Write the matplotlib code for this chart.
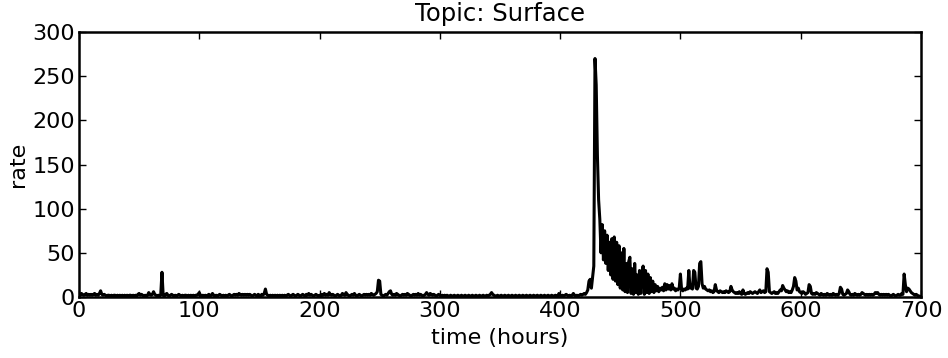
import matplotlib
matplotlib.use("Agg")
import matplotlib.pyplot as plt
import numpy as np

# hourly rate values, hours 0..700
rate = [
    3,2,4,3,2,3,4,2,3,2,
    3,2,3,4,2,3,2,4,7,3,
    2,3,2,1,2,2,1,2,1,2,
    2,1,2,1,2,1,2,1,2,1,
    2,1,2,2,1,2,1,2,1,3,
    4,2,3,2,1,2,1,2,5,3,
    2,3,6,3,2,1,2,1,3,28,
    2,1,3,4,2,1,2,3,2,1,
    2,1,2,3,2,1,2,1,2,2,
    1,2,1,2,1,2,1,2,2,3,
    5,2,1,2,1,2,1,2,3,1,
    2,4,2,1,2,1,2,3,2,1,
    2,1,2,1,2,3,2,1,2,3,
    2,3,2,4,3,2,3,2,3,2,
    3,2,3,2,1,2,3,2,1,3,
    2,1,3,2,4,9,3,2,1,2,
    1,2,1,2,1,2,1,2,1,2,
    1,2,1,2,3,2,1,2,3,2,
    1,2,3,2,1,2,3,2,1,3,
    2,4,2,3,2,1,2,3,2,1,
    2,1,3,2,4,2,3,2,5,3,
    2,3,2,1,2,3,2,1,2,4,
    3,2,5,3,2,1,2,3,2,4,
    2,1,2,3,2,1,2,3,2,3,
    2,3,2,4,3,2,3,4,6,19,
    18,3,2,1,2,3,2,4,6,7,
    3,2,3,2,4,3,2,1,2,3,
    2,3,2,4,3,2,1,2,3,2,
    3,2,4,2,3,2,1,2,3,5,
    3,2,4,3,2,3,2,1,2,3,
    2,1,2,1,2,1,2,1,1,2,
    1,1,2,1,1,2,1,1,2,1,
    1,2,1,1,2,1,1,2,1,1,
    2,1,1,2,1,1,2,1,1,2,
    1,2,3,5,3,2,1,1,2,1,
    1,2,1,1,2,1,1,2,1,1,
    2,1,1,2,1,1,2,1,1,2,
    1,1,2,1,1,2,1,1,2,1,
    1,2,1,1,2,1,1,2,1,1,
    2,1,1,2,1,1,2,1,1,4,
    2,1,2,1,2,3,2,1,2,1,
    2,4,2,1,2,1,2,3,2,3,
    4,3,5,8,18,20,10,22,35,270,
    240,160,110,88,50,82,42,75,38,70,
    30,62,25,66,20,68,18,62,14,58,
    10,50,8,55,6,38,5,40,45,4,
    32,3,38,5,25,3,30,4,28,35,
    3,30,5,26,4,22,6,18,5,14,
    7,12,6,10,8,11,7,15,8,14,
    9,13,8,15,9,10,7,9,8,10,
    26,8,7,9,8,10,9,30,10,12,
    9,30,28,10,9,12,38,40,15,10,
    12,9,8,7,8,6,7,5,6,14,
    8,6,5,7,6,5,6,5,7,6,
    5,6,12,8,6,5,4,5,4,6,
    4,3,8,4,3,4,5,4,6,5,
    4,5,6,5,4,6,8,5,6,7,
    5,6,32,28,6,5,4,5,6,4,
    5,4,6,8,7,13,10,8,6,7,
    5,6,5,8,12,22,18,8,10,6,
    5,4,6,5,3,4,5,14,12,4,
    3,4,3,5,4,3,2,4,3,2,
    3,2,4,3,2,3,2,4,3,2,
    3,2,4,11,9,3,2,3,4,8,
    6,3,2,3,2,4,3,2,3,2,
    3,5,4,3,2,3,2,3,2,3,
    2,3,5,4,5,3,2,3,2,3,
    2,3,2,3,2,1,2,3,2,1,
    2,3,2,2,4,3,26,14,6,10,
    9,7,5,4,3,2,3,2,1,1,
    0,
]
hours = list(range(len(rate)))

title = "Topic: Surface"
xlabel = "time (hours)"
ylabel = "rate"
xticks = [0, 100, 200, 300, 400, 500, 600, 700]
yticks = [0, 50, 100, 150, 200, 250, 300]

fs = 16
fig = plt.figure(figsize=(9.48, 3.58), dpi=100)
ax = fig.add_axes([0.0833, 0.1704, 0.8882, 0.7402])
ax.plot(hours, rate, color="black", linewidth=2.2)
ax.set_xlim(0, 700)
ax.set_ylim(0, 300)
ax.set_xticks(xticks)
ax.set_yticks(yticks)
ax.tick_params(direction="in", top=True, right=True, length=5, width=1,
               labelsize=fs, pad=3)
for s in ax.spines.values():
    s.set_linewidth(1.8)
ax.set_title(title, fontsize=17.5, pad=8)
ax.set_xlabel(xlabel, fontsize=fs, labelpad=5)
ax.set_ylabel(ylabel, fontsize=fs, labelpad=3)
fig.savefig("out.png", dpi=100)
